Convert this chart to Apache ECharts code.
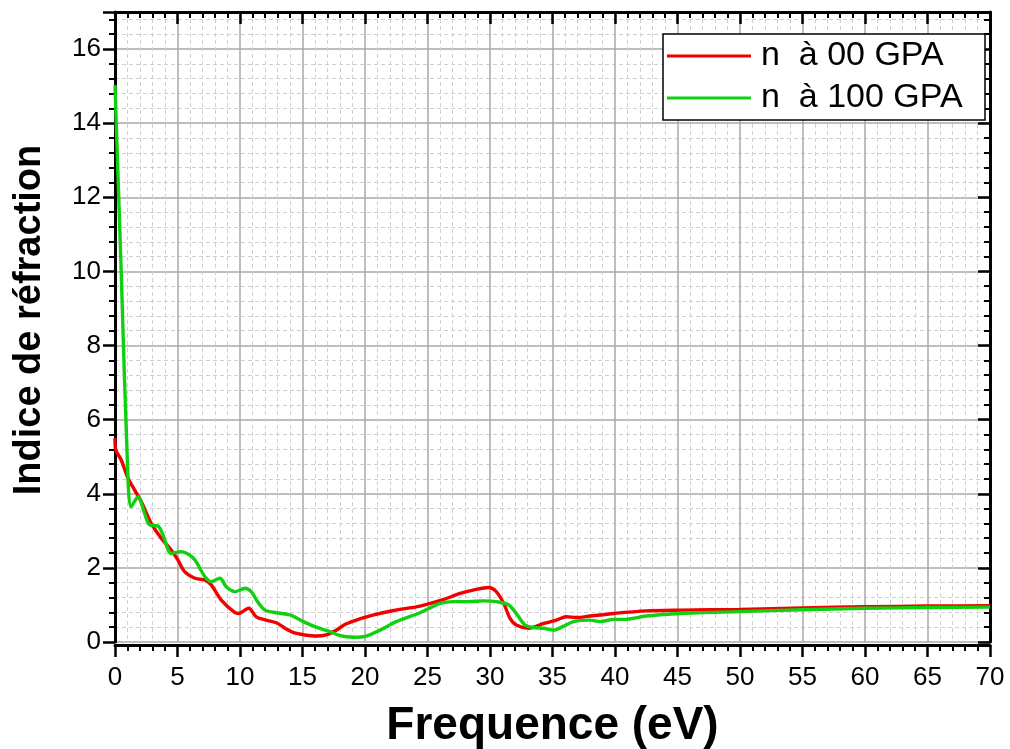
<!DOCTYPE html>
<html>
<head>
<meta charset="utf-8">
<script src="https://cdn.jsdelivr.net/npm/echarts@6/dist/echarts.min.js"></script>
<style>
html,body{margin:0;padding:0;background:#fff;}
#chart{width:1010px;height:749px;}
</style>
</head>
<body>
<div id="chart"></div>
<script>
var seriesNames = ['n  à 00 GPA', 'n  à 100 GPA'];
var xTickLabels = ['0','5','10','15','20','25','30','35','40','45','50','55','60','65','70'];
var yTickLabels = ['0','2','4','6','8','10','12','14','16'];

var redX = [0, 0.05, 0.5, 1.04, 1.57, 2.1, 2.9, 3.7, 4.5, 5.04, 5.57, 6.4, 7.2, 7.7, 8.5, 9.6, 9.9, 10.7, 11.3, 12.1, 12.9, 13.6, 14.3, 15.2, 16.1, 16.9, 17.7, 18.5, 19.3, 20.7, 22.3, 24.4, 26.3, 27.6, 28.9, 29.9, 30.5, 31.1, 31.6, 32.1, 33.1, 34.3, 35.3, 36.1, 36.9, 38, 39.9, 42.5, 45.2, 50, 55, 60, 65, 70];
var redY = [5.5, 5.2, 4.91, 4.42, 4.1, 3.79, 3.2, 2.8, 2.48, 2.21, 1.9, 1.72, 1.67, 1.54, 1.13, 0.79, 0.77, 0.91, 0.68, 0.59, 0.52, 0.37, 0.25, 0.19, 0.16, 0.19, 0.32, 0.49, 0.59, 0.73, 0.85, 0.97, 1.15, 1.31, 1.42, 1.47, 1.36, 1.04, 0.64, 0.46, 0.37, 0.50, 0.59, 0.68, 0.66, 0.70, 0.77, 0.84, 0.86, 0.88, 0.92, 0.95, 0.97, 0.98];

var greenX = [0, 0.5, 1.04, 1.3, 1.84, 2.37, 2.77, 3.44, 3.84, 4.5, 5.3, 5.9, 6.4, 7.2, 7.7, 8.4, 8.9, 9.6, 10.4, 10.9, 11.4, 12, 12.9, 14, 15.07, 16.1, 17.2, 18, 19.07, 20.1, 21.2, 22.5, 24.4, 26, 27.1, 28.3, 29.5, 30.5, 31.5, 32.1, 32.8, 33.5, 34.3, 35.1, 35.9, 36.7, 38, 38.8, 39.9, 40.7, 42.5, 45.2, 50, 55, 60, 65, 70];
var greenY = [15.03, 9.95, 4.4, 3.65, 3.92, 3.47, 3.16, 3.13, 2.89, 2.39, 2.44, 2.36, 2.21, 1.76, 1.63, 1.72, 1.49, 1.36, 1.45, 1.36, 1.09, 0.86, 0.79, 0.73, 0.55, 0.40, 0.28, 0.17, 0.13, 0.16, 0.32, 0.55, 0.79, 1.04, 1.09, 1.09, 1.11, 1.09, 1.0, 0.77, 0.46, 0.39, 0.37, 0.32, 0.43, 0.55, 0.59, 0.55, 0.61, 0.61, 0.70, 0.77, 0.82, 0.87, 0.91, 0.93, 0.94];

function zip(xs, ys){ return xs.map(function(x,i){ return [x, ys[i]]; }); }

var FONT = 'Liberation Sans, Arial, sans-serif';
var axisLineStyle = {color:'#000', width:3};

function xAxisCfg(pos){
  var bottom = pos === 'bottom';
  return {
    type:'value', position:pos, min:0, max:70, interval:5,
    offset: bottom ? 3 : 0,
    axisLine:{show:true, onZero:false, lineStyle:axisLineStyle},
    axisTick:{show:true, inside:!bottom, length:12, lineStyle:{color:'#000', width:2.5}},
    minorTick:{show:true, splitNumber:5, length:6, lineStyle:{color:'#000', width:2}},
    splitLine:{show:bottom, lineStyle:{color:'#a8a8a8', width:1.5}},
    minorSplitLine:{show:bottom, lineStyle:{color:'#cfcfcf', width:1, type:[4,3]}},
    axisLabel:{show:bottom, fontSize:26, color:'#000', fontFamily:FONT, margin:20,
      formatter:function(v){ return xTickLabels[Math.round(v/5)]; }},
    name: bottom ? 'Frequence (eV)' : '',
    nameLocation:'middle', nameGap:58,
    nameTextStyle:{fontSize:46, fontWeight:'bold', color:'#000', fontFamily:FONT}
  };
}
function yAxisCfg(pos){
  var left = pos === 'left';
  return {
    type:'value', position:pos, min:0, max:17, interval:2,
    axisLine:{show:true, onZero:false, lineStyle:axisLineStyle},
    axisTick:{show:true, inside:!left, length:12, lineStyle:{color:'#000', width:2.5}},
    minorTick:{show:true, splitNumber:5, length:6, lineStyle:{color:'#000', width:2}},
    splitLine:{show:left, lineStyle:{color:'#a8a8a8', width:1.5}},
    minorSplitLine:{show:left, lineStyle:{color:'#cfcfcf', width:1, type:[4,3]}},
    axisLabel:{show:left, fontSize:26, color:'#000', fontFamily:FONT, margin:14,
      formatter:function(v){ return yTickLabels[Math.round(v/2)]; }},
    name: left ? 'Indice de réfraction' : '',
    nameLocation:'middle', nameGap:66, nameRotate:90,
    nameTextStyle:{fontSize:38, fontWeight:'bold', color:'#000', fontFamily:FONT, padding:[0,0,0,14]}
  };
}

var chart = echarts.init(document.getElementById('chart'), null, {renderer:'canvas'});
chart.setOption({
  animation:false,
  backgroundColor:'#fff',
  grid:{left:115, right:20, top:12, bottom:107, containLabel:false, outerBoundsMode:'none'},
  xAxis:[xAxisCfg('bottom'), xAxisCfg('top')],
  yAxis:[yAxisCfg('left'), yAxisCfg('right')],
  legend:{
    orient:'vertical', left:663, top:34,
    backgroundColor:'#fff', borderColor:'#000', borderWidth:1.5,
    padding:[4,4,4,4], itemWidth:84, itemHeight:3, itemGap:6,
    textStyle:{fontSize:34, lineHeight:36, width:220, color:'#000', fontFamily:FONT, padding:[0,0,0,5]},
    data:[{name:seriesNames[0], icon:'rect'}, {name:seriesNames[1], icon:'rect'}]
  },
  series:[
    {name:seriesNames[0], type:'line', xAxisIndex:0, yAxisIndex:0, data:zip(redX, redY),
     smooth:0.3, showSymbol:false, symbol:'none', color:'#f00000',
     lineStyle:{color:'#f00000', width:3.4}, z:3},
    {name:seriesNames[1], type:'line', xAxisIndex:0, yAxisIndex:0, data:zip(greenX, greenY),
     smooth:0.3, showSymbol:false, symbol:'none', color:'#10d010',
     lineStyle:{color:'#10d010', width:3.4}, z:4}
  ]
});
</script>
</body>
</html>
